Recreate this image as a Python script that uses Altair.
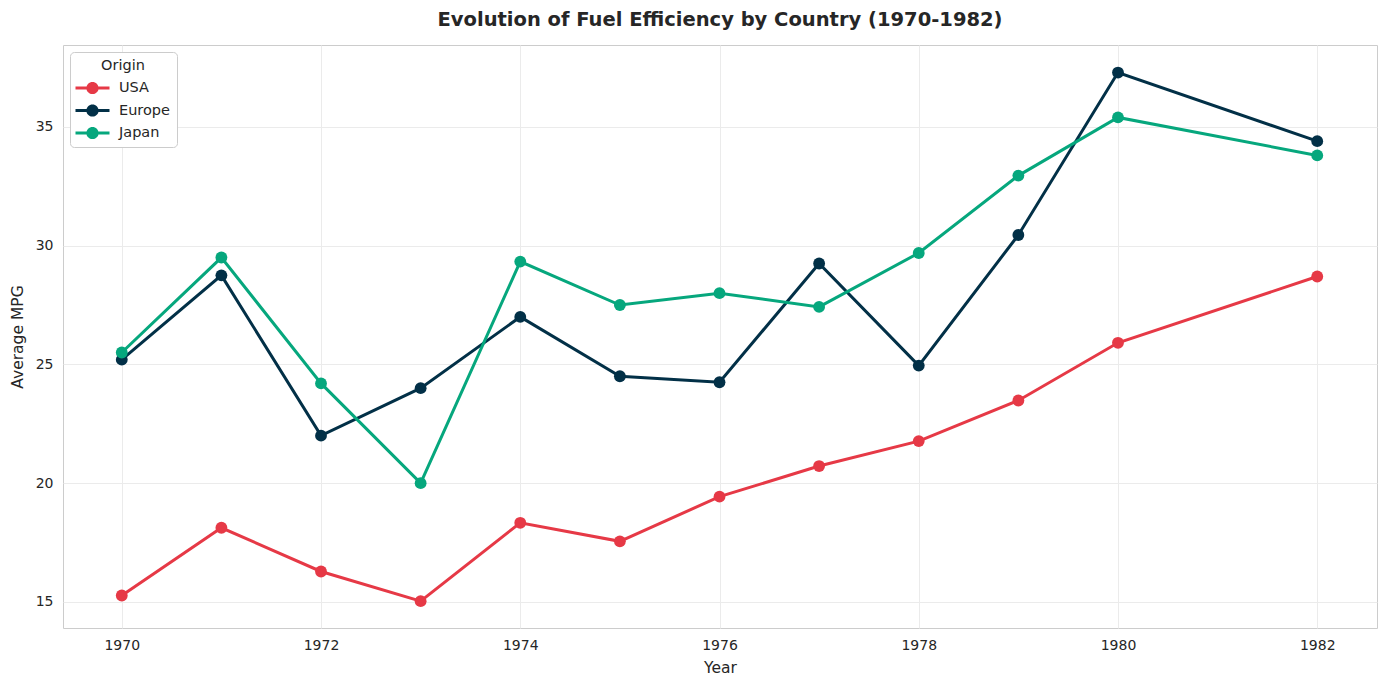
import altair as alt
import pandas as pd

years = [1970, 1971, 1972, 1973, 1974, 1975, 1976, 1977, 1978, 1979, 1980, 1982]
usa = [15.27, 18.12, 16.28, 15.03, 18.33, 17.55, 19.43, 20.72, 21.77, 23.48, 25.91, 28.70]
europe = [25.20, 28.75, 22.00, 24.00, 27.00, 24.50, 24.25, 29.25, 24.95, 30.45, 37.29, 34.40]
japan = [25.50, 29.50, 24.20, 20.00, 29.33, 27.50, 28.00, 27.42, 29.69, 32.95, 35.40, 33.80]
origins = ["USA", "Europe", "Japan"]
colors = ["#E63946", "#023047", "#06A77D"]
x_ticks = [1970, 1972, 1974, 1976, 1978, 1980, 1982]
y_ticks = [15, 20, 25, 30, 35]

rows = []
for name, vals in zip(origins, [usa, europe, japan]):
    for yr, v in zip(years, vals):
        rows.append({"Year": yr, "MPG": v, "Origin": name})
df = pd.DataFrame(rows)

# line-with-marker legend glyph (units: half symbol size)
symbol_path = ("M-2,-0.18H2V0.18H-2Z "
               "M0,-0.72A0.72,0.72 0 1,1 0,0.72A0.72,0.72 0 1,1 0,-0.72Z")

scale = alt.Scale(domain=origins, range=colors)


def legend():
    return alt.Legend(
        title="Origin",
        orient="top-left",
        offset=7,
        symbolType=symbol_path,
        symbolSize=289,
        symbolStrokeWidth=0,
        symbolOpacity=1,
        symbolOffset=7,
    )


x = alt.X("Year:Q", title="Year",
          scale=alt.Scale(domain=[1969.41, 1982.6], nice=False, zero=False),
          axis=alt.Axis(values=x_ticks, format="d"))
y = alt.Y("MPG:Q", title="Average MPG",
          scale=alt.Scale(domain=[13.9, 38.45], nice=False, zero=False),
          axis=alt.Axis(values=y_ticks))

base = alt.Chart(df)
lines = base.mark_line(strokeWidth=3).encode(
    x=x, y=y, stroke=alt.Stroke("Origin:N", scale=scale, legend=legend()), order="Year:Q")
points = base.mark_circle(size=140, opacity=1).encode(
    x=x, y=y, fill=alt.Fill("Origin:N", scale=scale, legend=legend()))

chart = (lines + points).properties(
    width=1314,
    height=583,
    title=alt.TitleParams("Evolution of Fuel Efficiency by Country (1970-1982)",
                          fontSize=19.5, font="DejaVu Sans", fontWeight="bold",
                          color="#262626", anchor="middle", offset=15),
    autosize=alt.AutoSizeParams(type="none"),
    padding={"left": 55, "top": 37, "right": 2, "bottom": 50},
).configure_view(
    stroke="#cccccc", strokeWidth=1
).configure_axis(
    domain=False, ticks=False, grid=True, gridColor="#ebebeb", gridWidth=1,
    labelFont="DejaVu Sans", labelFontSize=14, labelColor="#262626", labelPadding=10,
    titleFont="DejaVu Sans", titleFontSize=15.5, titleColor="#262626",
    titleFontWeight="normal",
).configure_axisX(titlePadding=8).configure_axisY(titlePadding=10).configure_legend(
    fillColor="white", strokeColor="#cccccc", cornerRadius=4, padding=7,
    titleFont="DejaVu Sans", titleFontSize=14.5, titleFontWeight="normal",
    titleColor="#262626", titleAnchor="middle", titleAlign="center", titlePadding=6,
    labelFont="DejaVu Sans", labelFontSize=14.5, labelColor="#262626", labelOffset=18,
    rowPadding=7.5,
)

chart.save("out.html", embed_options={"renderer": "svg", "actions": False})
